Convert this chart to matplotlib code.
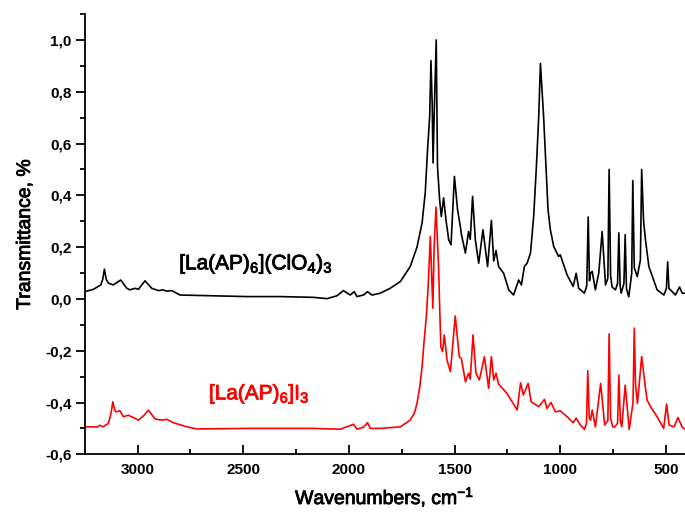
import matplotlib
matplotlib.use("Agg")
import matplotlib.pyplot as plt
import matplotlib.patheffects as pe
from matplotlib.ticker import MultipleLocator, FuncFormatter

# ---- data ----
wn_clo4 = [3250, 3209, 3174, 3165, 3157, 3148, 3138, 3115, 3080, 3051, 3036, 3012, 2996,
           2965, 2933, 2901, 2880, 2862, 2838, 2799, 2641, 2483, 2325, 2168, 2104, 2057,
           2026, 1994, 1975, 1962, 1931, 1912, 1891, 1852, 1805, 1757, 1710, 1678, 1654,
           1639, 1628, 1618, 1612, 1606, 1602, 1597, 1587, 1581, 1571, 1563, 1552, 1541,
           1528, 1517, 1501, 1486, 1473, 1468, 1460, 1449, 1434, 1426, 1415, 1402, 1386,
           1366, 1344, 1326, 1315, 1304, 1292, 1268, 1244, 1221, 1197, 1184, 1170, 1157,
           1141, 1126, 1113, 1102, 1094, 1079, 1068, 1058, 1047, 1031, 1008, 1000, 968,
           939, 925, 913, 886, 875, 868, 862, 857, 849, 834, 818, 802, 786, 775, 769, 762,
           755, 739, 729, 723, 717, 712, 699, 693, 687, 676, 662, 657, 650, 636, 621, 615,
           606, 597, 581, 542, 510, 498, 492, 486, 479, 455, 436, 423, 408]
t_clo4 = [0.028, 0.037, 0.054, 0.075, 0.115, 0.075, 0.061, 0.054, 0.073, 0.041, 0.035, 0.041,
          0.037, 0.070, 0.041, 0.032, 0.035, 0.030, 0.032, 0.015, 0.012, 0.009, 0.009, 0.006,
          0.001, 0.012, 0.032, 0.015, 0.028, 0.009, 0.015, 0.028, 0.015, 0.022, 0.041, 0.067,
          0.125, 0.200, 0.293, 0.410, 0.576, 0.705, 0.920, 0.750, 0.525, 0.700, 1.000, 0.512,
          0.383, 0.318, 0.390, 0.306, 0.228, 0.209, 0.473, 0.344, 0.280, 0.250, 0.220, 0.177,
          0.260, 0.230, 0.396, 0.228, 0.138, 0.267, 0.125, 0.303, 0.146, 0.187, 0.125, 0.099,
          0.035, 0.015, 0.073, 0.054, 0.125, 0.138, 0.177, 0.318, 0.512, 0.705, 0.909, 0.705,
          0.512, 0.344, 0.267, 0.202, 0.164, 0.170, 0.093, 0.048, 0.099, 0.041, 0.022, 0.050,
          0.316, 0.070, 0.099, 0.106, 0.035, 0.100, 0.260, 0.054, 0.080, 0.500, 0.090, 0.046,
          0.035, 0.060, 0.255, 0.050, 0.022, 0.060, 0.248, 0.040, 0.008, 0.100, 0.457, 0.120,
          0.086, 0.150, 0.500, 0.300, 0.228, 0.125, 0.035, 0.015, 0.040, 0.143, 0.040, 0.035,
          0.015, 0.046, 0.022, 0.022]

wn_i3 = [3250, 3190, 3178, 3165, 3138, 3125, 3117, 3108, 3102, 3083, 3067, 3044, 3020, 2996,
         2970, 2949, 2917, 2885, 2862, 2830, 2767, 2720, 2483, 2325, 2168, 2041, 2010, 1978,
         1962, 1931, 1912, 1899, 1852, 1757, 1710, 1690, 1678, 1665, 1654, 1645, 1634, 1625,
         1615, 1609, 1603, 1597, 1588, 1580, 1576, 1570, 1565, 1557, 1549, 1536, 1520, 1497,
         1478, 1468, 1449, 1434, 1426, 1413, 1399, 1383, 1359, 1339, 1326, 1315, 1304, 1292,
         1252, 1204, 1188, 1175, 1152, 1138, 1102, 1075, 1063, 1044, 1023, 1000, 968, 939,
         925, 905, 886, 876, 870, 863, 857, 849, 834, 809, 790, 775, 769, 762, 752, 742, 729,
         723, 716, 709, 693, 674, 656, 650, 644, 635, 615, 597, 589, 573, 542, 511, 497, 485,
         462, 443, 423, 408]
t_i3 = [-0.494, -0.494, -0.488, -0.494, -0.481, -0.440, -0.397, -0.430, -0.436, -0.432, -0.455,
        -0.449, -0.458, -0.468, -0.450, -0.429, -0.464, -0.468, -0.465, -0.478, -0.494, -0.502,
        -0.500, -0.500, -0.500, -0.503, -0.494, -0.484, -0.503, -0.495, -0.478, -0.500, -0.500,
        -0.494, -0.468, -0.440, -0.404, -0.340, -0.262, -0.170, -0.068, 0.050, 0.241, 0.100,
        -0.036, 0.200, 0.355, 0.200, 0.125, -0.050, -0.185, -0.204, -0.139, -0.236, -0.281,
        -0.066, -0.223, -0.230, -0.320, -0.287, -0.310, -0.139, -0.287, -0.313, -0.223, -0.345,
        -0.223, -0.313, -0.287, -0.329, -0.365, -0.429, -0.324, -0.371, -0.326, -0.397, -0.416,
        -0.388, -0.423, -0.400, -0.436, -0.432, -0.455, -0.478, -0.460, -0.487, -0.504, -0.480,
        -0.277, -0.460, -0.468, -0.429, -0.494, -0.326, -0.487, -0.470, -0.135, -0.460, -0.494,
        -0.494, -0.480, -0.294, -0.470, -0.494, -0.333, -0.504, -0.400, -0.113, -0.330, -0.404,
        -0.223, -0.345, -0.391, -0.416, -0.455, -0.500, -0.406, -0.487, -0.494, -0.458, -0.496,
        -0.504]

label_clo4 = r"[La(AP)$_6$](ClO$_4$)$_3$"
label_i3 = r"[La(AP)$_6$]I$_3$"
x_title = r"Wavenumbers, cm$^{-1}$"
y_title = "Transmittance, %"

# ---- style ----
plt.rcParams["font.family"] = ["Liberation Sans", "DejaVu Sans"]
plt.rcParams["mathtext.fontset"] = "custom"
plt.rcParams["mathtext.rm"] = "Liberation Sans"
plt.rcParams["mathtext.default"] = "regular"

fig = plt.figure(figsize=(6.85, 5.13), dpi=100)
ax = fig.add_axes([0.1237, 0.1144, 0.8763, 0.8583])

ax.plot(wn_clo4, t_clo4, color="black", lw=1.2)
ax.plot(wn_i3, t_i3, color="#ff0000", lw=1.2)

ax.set_xlim(3250, 410)
ax.set_ylim(-0.6, 1.1)

for s in ("top", "right"):
    ax.spines[s].set_visible(False)
for s in ("left", "bottom"):
    ax.spines[s].set_linewidth(1.3)

ax.xaxis.set_major_locator(MultipleLocator(500))
ax.xaxis.set_minor_locator(MultipleLocator(250))
ax.yaxis.set_major_locator(MultipleLocator(0.2))
ax.yaxis.set_minor_locator(MultipleLocator(0.1))


def fmt(v, pos):
    if abs(v) < 1e-9:
        v = 0.0
    return f"{v:.1f}".replace(".", ",")


ax.yaxis.set_major_formatter(FuncFormatter(fmt))

ax.tick_params(axis="x", which="major", direction="in", length=6.5, width=1.3, pad=6.5)
ax.tick_params(axis="x", which="minor", direction="in", length=3.5, width=1.3)
ax.tick_params(axis="y", which="major", direction="out", length=6.5, width=1.3, pad=3)
ax.tick_params(axis="y", which="minor", direction="out", length=3.5, width=1.3)
for lab in ax.get_xticklabels() + ax.get_yticklabels():
    lab.set_fontweight("bold")
    lab.set_fontsize(11)

thick_k = [pe.withStroke(linewidth=0.6, foreground="black")]
thick_r = [pe.withStroke(linewidth=0.6, foreground="#ff0000")]

xl = ax.set_xlabel(x_title, fontsize=14, labelpad=6)
yl = ax.set_ylabel(y_title, fontsize=14, labelpad=8)
xl.set_path_effects(thick_k)
yl.set_path_effects(thick_k)

ax.text(2439, 0.135, label_clo4, fontsize=15, color="black", ha="center", va="center",
        path_effects=thick_k)
ax.text(2424, -0.367, label_i3, fontsize=15, color="#ff0000", ha="center", va="center",
        path_effects=thick_r)

fig.savefig("out.png", dpi=100)
